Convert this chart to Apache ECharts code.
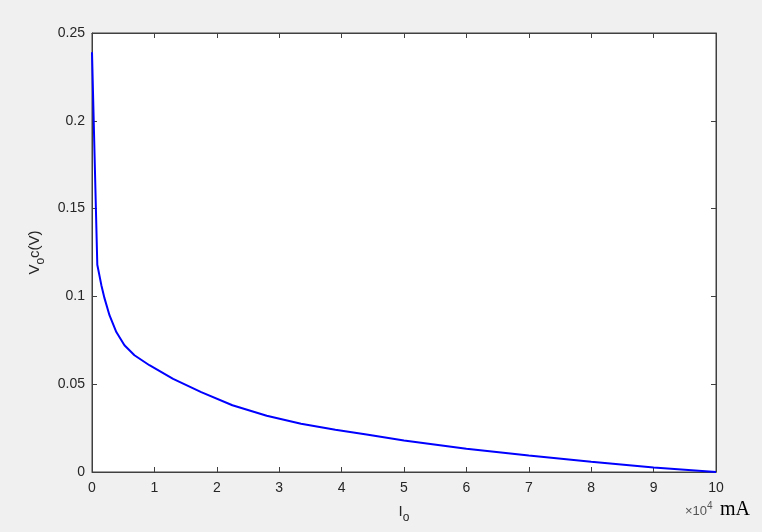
<!DOCTYPE html>
<html>
<head>
<meta charset="utf-8">
<script src="https://cdn.jsdelivr.net/npm/echarts@6/dist/echarts.min.js"></script>
<style>
  html, body { margin: 0; padding: 0; background: #f0f0f0; }
  #chart { width: 762px; height: 532px; }
</style>
</head>
<body>
<div id="chart"></div>
<script>
// Io in units of 1e4 mA
var currentIo = [0, 0.085, 0.15, 0.2, 0.28, 0.39, 0.52, 0.68, 0.92, 1.3, 1.75, 2.25, 2.8, 3.35, 3.9, 4.4, 5, 6, 7, 8, 9, 10];
// Voc (V)
var voltageVoc = [0.239, 0.118, 0.1064, 0.099, 0.0893, 0.0797, 0.0722, 0.0665, 0.0608, 0.053, 0.0455, 0.038, 0.032, 0.0275, 0.024, 0.0214, 0.018, 0.0132, 0.0094, 0.0058, 0.0025, 0];

var xTicks = [0, 1, 2, 3, 4, 5, 6, 7, 8, 9, 10];
var yTicks = [0, 0.05, 0.1, 0.15, 0.2, 0.25];

var myChart = echarts.init(document.getElementById('chart'));

var axisColor = '#404040';
var labelColor = '#262626';
var font = 'Liberation Sans, Arial, sans-serif';

var points = currentIo.map(function (x, i) { return [x, voltageVoc[i]]; });

function boxAxis(extra) {
  var base = {
    type: 'value',
    axisLine: { show: true, onZero: false, lineStyle: { color: axisColor, width: 1 } },
    axisTick: { show: true, inside: true, length: 5, lineStyle: { color: axisColor } },
    splitLine: { show: false }
  };
  for (var k in extra) base[k] = extra[k];
  return base;
}

var nameRich = {
  m: { fontSize: 15, fontFamily: font, color: labelColor, lineHeight: 20 },
  s: { fontSize: 12, fontFamily: font, color: labelColor, padding: [12, 0, 0, 0], lineHeight: 20 }
};

var option = {
  backgroundColor: '#f0f0f0',
  animation: false,
  grid: {
    left: 92, right: 46, top: 33, bottom: 60,
    show: true,
    backgroundColor: '#ffffff',
    borderColor: axisColor,
    borderWidth: 1
  },
  xAxis: [
    boxAxis({
      min: 0, max: 10, interval: 1,
      position: 'bottom',
      name: '{m|I}{s|o}',
      nameLocation: 'middle',
      nameGap: 28,
      nameTextStyle: { rich: nameRich },
      axisLabel: {
        color: labelColor, fontSize: 14, fontFamily: font, margin: 9,
        formatter: function (v) { return xTicks.indexOf(v) >= 0 ? String(v) : ''; }
      }
    }),
    boxAxis({
      min: 0, max: 10, interval: 1,
      position: 'top',
      axisLabel: { show: false }
    })
  ],
  yAxis: [
    boxAxis({
      min: 0, max: 0.25, interval: 0.05,
      position: 'left',
      name: '{m|V}{s|o}{m|c(V)}',
      nameLocation: 'middle',
      nameGap: 44,
      nameRotate: 90,
      nameTextStyle: { rich: nameRich },
      axisLabel: {
        color: labelColor, fontSize: 14, fontFamily: font, margin: 7,
        formatter: function (v) {
          var t = yTicks.filter(function (k) { return Math.abs(k - v) < 1e-9; });
          return t.length ? String(+v.toFixed(2)) : '';
        }
      }
    }),
    boxAxis({
      min: 0, max: 0.25, interval: 0.05,
      position: 'right',
      axisLabel: { show: false }
    })
  ],
  graphic: [
    {
      type: 'text',
      left: 685,
      top: 501,
      style: {
        text: '{x|×10}{p|4}',
        rich: {
          x: { fontSize: 13, fontFamily: font, fill: '#555555', lineHeight: 22 },
          p: { fontSize: 10, fontFamily: font, fill: '#555555', padding: [0, 0, 11, 0], lineHeight: 22 }
        }
      }
    },
    {
      type: 'text',
      left: 720,
      top: 500,
      style: {
        text: 'mA',
        fontSize: 20,
        fontFamily: 'Liberation Serif, Times New Roman, serif',
        fill: '#000000'
      }
    }
  ],
  series: [
    {
      type: 'line',
      xAxisIndex: 0,
      yAxisIndex: 0,
      data: points,
      symbol: 'none',
      smooth: false,
      lineStyle: { color: '#0000ff', width: 2 }
    }
  ]
};

myChart.setOption(option);
window.onresize = function () {
  myChart.resize();
};
</script>
</body>
</html>
